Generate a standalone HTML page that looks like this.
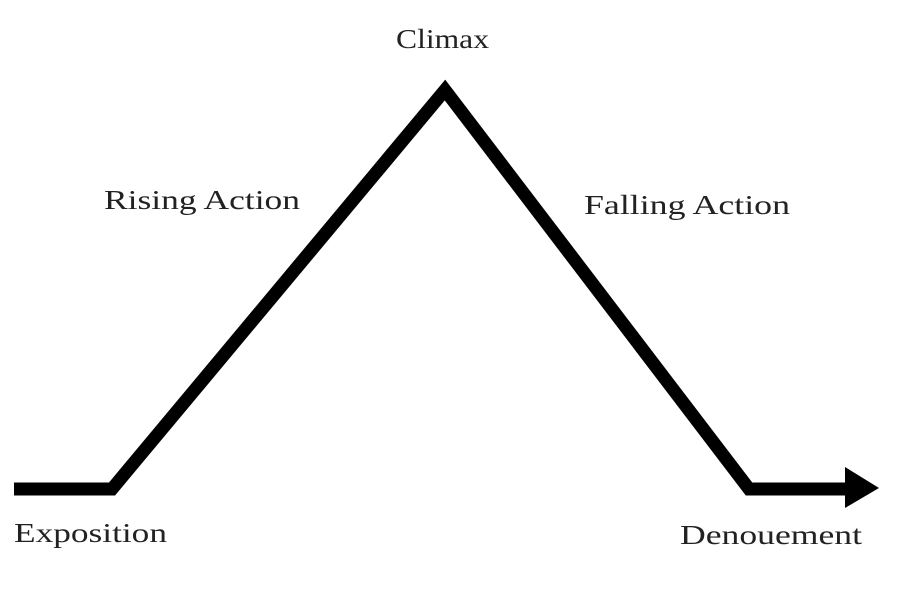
<!DOCTYPE html>
<html><head><style>
body{margin:0;background:#fff;}
svg text{font-family:"Liberation Serif","DejaVu Serif",serif;font-size:27px;fill:#222;}
</style></head><body>
<svg width="900" height="584" xmlns="http://www.w3.org/2000/svg">
<rect width="900" height="584" fill="#fff"/>
<polyline points="14,489 112,489 445,90 749,489 848,489" fill="none" stroke="#000" stroke-width="13" stroke-linejoin="miter"/>
<polygon points="845,467 879,488 845,508" fill="#000"/>
<text x="396" y="48" textLength="93" lengthAdjust="spacingAndGlyphs">Climax</text>
<text x="104" y="209" textLength="196" lengthAdjust="spacingAndGlyphs">Rising Action</text>
<text x="584" y="214" textLength="206" lengthAdjust="spacingAndGlyphs">Falling Action</text>
<text x="14" y="542" textLength="153" lengthAdjust="spacingAndGlyphs">Exposition</text>
<text x="680" y="544" textLength="182" lengthAdjust="spacingAndGlyphs">Denouement</text>
</svg>
</body></html>
